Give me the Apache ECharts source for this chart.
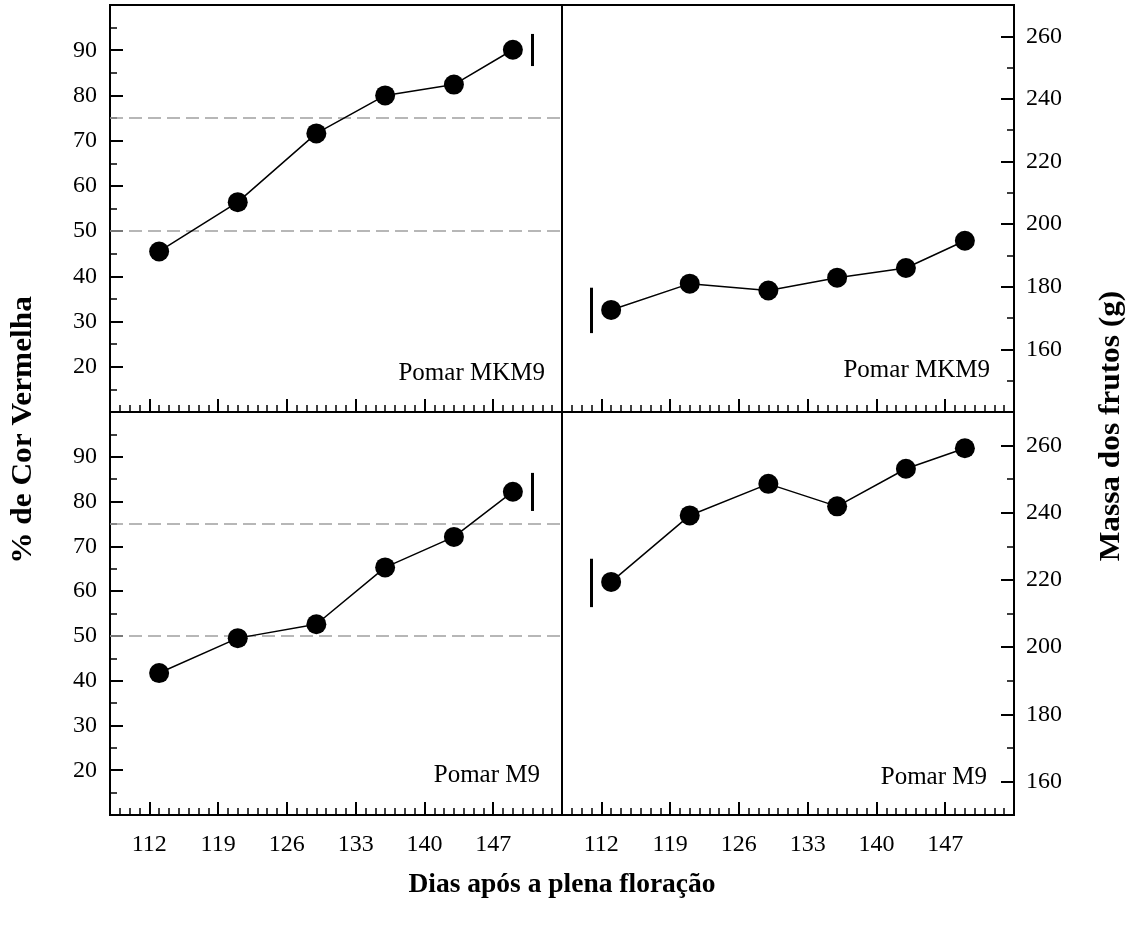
<!DOCTYPE html>
<html>
<head>
<meta charset="utf-8">
<script src="https://cdn.jsdelivr.net/npm/echarts@6/dist/echarts.min.js"></script>
<style>
  html, body { margin: 0; padding: 0; background: #fff; }
  #chart { width: 1135px; height: 928px; }
</style>
</head>
<body>
<div id="chart"></div>
<script>
// ---- Data ----
const days = [113, 121, 129, 136, 143, 149];
const dayTicks = [112, 119, 126, 133, 140, 147];
const colorMKM9 = [45.5, 56.4, 71.6, 80.0, 82.4, 90.1];
const colorM9 = [41.7, 49.5, 52.6, 65.3, 72.1, 82.2];
const massMKM9 = [172.6, 181.0, 178.8, 182.9, 186.0, 194.7];
const massM9 = [219.4, 239.2, 248.6, 241.9, 253.1, 259.2];
const colorTicks = [20, 30, 40, 50, 60, 70, 80, 90];
const massTicks = [160, 180, 200, 220, 240, 260];
const refLines = [50, 75];
// error bars: [day, low, high]
const errColorMKM9 = [151, 86.5, 93.6];
const errColorM9 = [151, 77.9, 86.4];
const errMassMKM9 = [111, 165.2, 179.7];
const errMassM9 = [111, 211.9, 226.3];
const panelLabels = ['Pomar MKM9', 'Pomar MKM9', 'Pomar M9', 'Pomar M9'];

// ---- Chart ----
const FONT = 'Liberation Serif';
const chart = echarts.init(document.getElementById('chart'));

const grids = [
  { left: 110, top: 5, width: 452, height: 407 },
  { left: 562, top: 5, width: 452, height: 407 },
  { left: 110, top: 412, width: 452, height: 403 },
  { left: 562, top: 412, width: 452, height: 403 }
].map(g => Object.assign({ show: true, borderColor: '#000', borderWidth: 2, backgroundColor: 'transparent' }, g));

const yRanges = [[10, 100, 5], [140, 270, 10], [10, 100, 5], [150, 270, 10]];
const xAxes = [], yAxes = [];
for (let g = 0; g < 4; g++) {
  const bottomRow = g >= 2;
  xAxes.push({
    gridIndex: g, type: 'value', position: 'bottom', min: 108, max: 154, interval: 1,
    axisLine: { show: false, onZero: false },
    axisTick: { show: true, inside: true, length: 7, lineStyle: { color: '#000', width: 1.5 } },
    axisLabel: { show: false }, splitLine: { show: false }
  });
  xAxes.push({
    gridIndex: g, type: 'value', position: 'bottom', min: 108, max: 154,
    axisLine: { show: false, onZero: false },
    axisTick: { show: true, inside: true, length: 13, customValues: dayTicks, lineStyle: { color: '#000', width: 2 } },
    axisLabel: { show: bottomRow, customValues: dayTicks, margin: 18, color: '#000', fontFamily: FONT, fontSize: 24 },
    splitLine: { show: false }
  });
  const left = (g % 2 === 0);
  const r = yRanges[g];
  const majors = left ? colorTicks : massTicks;
  yAxes.push({
    gridIndex: g, type: 'value', position: left ? 'left' : 'right', min: r[0], max: r[1], interval: r[2],
    axisLine: { show: false, onZero: false },
    axisTick: { show: true, inside: true, length: 7, lineStyle: { color: '#000', width: 1.5 } },
    axisLabel: { show: false }, splitLine: { show: false }
  });
  yAxes.push({
    gridIndex: g, type: 'value', position: left ? 'left' : 'right', min: r[0], max: r[1],
    axisLine: { show: false, onZero: false },
    axisTick: { show: true, inside: true, length: 13, customValues: majors, lineStyle: { color: '#000', width: 2 } },
    axisLabel: { show: true, customValues: majors, margin: left ? 13 : 12, color: '#000', fontFamily: FONT, fontSize: 24 },
    splitLine: { show: false }
  });
}

const seriesVals = [colorMKM9, massMKM9, colorM9, massM9];
const errs = [errColorMKM9, errMassMKM9, errColorM9, errMassM9];
const series = seriesVals.map((vals, g) => {
  const e = errs[g];
  const mlData = [[
    { coord: [e[0], e[1]], lineStyle: { type: 'solid', color: '#000', width: 3 } },
    { coord: [e[0], e[2]] }
  ]];
  if (g % 2 === 0) {
    refLines.forEach(v => mlData.push({ yAxis: v, lineStyle: { type: [13, 6], color: '#a0a0a0', width: 1.5 } }));
  }
  return {
    type: 'line', xAxisIndex: 2 * g, yAxisIndex: 2 * g,
    data: days.map((d, i) => [d, vals[i]]),
    symbol: 'circle', symbolSize: 20, showAllSymbol: true,
    itemStyle: { color: '#000' },
    lineStyle: { color: '#000', width: 1.5 },
    silent: true, animation: false, z: 5,
    markLine: { symbol: 'none', silent: true, animation: false, label: { show: false }, data: mlData, z: 3 }
  };
});

const labelPos = [[545, 373], [990, 370], [540, 775], [987, 777]];
const graphic = panelLabels.map((t, i) => ({
  type: 'text', x: labelPos[i][0], y: labelPos[i][1], z: 10,
  style: { text: t, font: '25px "Liberation Serif"', fill: '#000', textAlign: 'right', textVerticalAlign: 'middle' }
}));
graphic.push({
  type: 'text', x: 24, y: 430, rotation: Math.PI / 2, scaleX: 1.08, z: 10,
  style: { text: '% de Cor Vermelha', font: 'bold 29px "Liberation Serif"', fill: '#000', textAlign: 'center', textVerticalAlign: 'middle' }
});
graphic.push({
  type: 'text', x: 1112, y: 426, rotation: Math.PI / 2, scaleX: 1.08, z: 10,
  style: { text: 'Massa dos frutos (g)', font: 'bold 29px "Liberation Serif"', fill: '#000', textAlign: 'center', textVerticalAlign: 'middle' }
});
graphic.push({
  type: 'text', x: 562, y: 885, z: 10,
  style: { text: 'Dias após a plena floração', font: 'bold 27.5px "Liberation Serif"', fill: '#000', textAlign: 'center', textVerticalAlign: 'middle' }
});

chart.setOption({
  animation: false,
  backgroundColor: '#fff',
  grid: grids,
  xAxis: xAxes,
  yAxis: yAxes,
  series: series,
  graphic: graphic
});
</script>
</body>
</html>
